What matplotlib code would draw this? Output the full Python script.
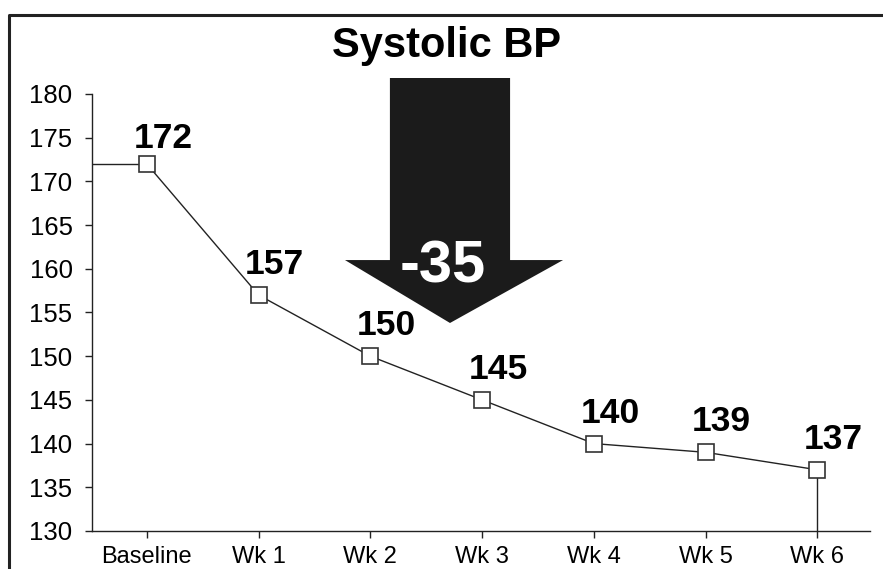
import matplotlib.pyplot as plt
from matplotlib.lines import Line2D
from matplotlib.patches import Polygon

plt.rcParams["font.family"] = ["Liberation Sans", "DejaVu Sans"]

CATEGORIES = ["Baseline", "Wk 1", "Wk 2", "Wk 3", "Wk 4", "Wk 5", "Wk 6"]
SYSTOLIC = [172, 157, 150, 145, 140, 139, 137]
Y_TICKS = [130, 135, 140, 145, 150, 155, 160, 165, 170, 175, 180]

LINE_COLOR = "#222222"
ARROW_COLOR = "#1b1b1b"

fig = plt.figure(figsize=(8.83, 5.69), dpi=100)
ax = fig.add_axes([0.1042, 0.0668, 0.8811, 0.768])

x = list(range(len(CATEGORIES)))
ax.set_xlim(-0.49, 6.47)
ax.set_ylim(Y_TICKS[0], Y_TICKS[-1])

# Excel-style drop lines at both ends of the series
ax.plot([-0.49, x[0]], [SYSTOLIC[0], SYSTOLIC[0]], color=LINE_COLOR, lw=1.0, zorder=2)
ax.plot([x[-1], x[-1]], [Y_TICKS[0], SYSTOLIC[-1]], color=LINE_COLOR, lw=1.0, zorder=2)

ax.plot(x, SYSTOLIC, color=LINE_COLOR, lw=1.0, marker="s", markersize=11,
        markerfacecolor="white", markeredgecolor="#333333", markeredgewidth=1.2, zorder=3)

for i, (xi, v) in enumerate(zip(x, SYSTOLIC)):
    dy = 11.5 if i == 0 else 15
    ax.annotate(str(v), xy=(xi, v), xytext=(11.5, dy), textcoords="offset points",
                ha="center", va="baseline", fontsize=25.5, fontweight="bold", color="black")

# big down arrow showing the total change
change = SYSTOLIC[-1] - SYSTOLIC[0]
shaft_l, shaft_r, wing_l, wing_r = 2.175, 3.25, 1.773, 3.724
top_y, base_y, tip_y = 181.83, 161.0, 153.8
tip_x = (shaft_l + shaft_r) / 2
arrow = Polygon([(shaft_l, top_y), (shaft_r, top_y), (shaft_r, base_y), (wing_r, base_y),
                 (tip_x, tip_y), (wing_l, base_y), (shaft_l, base_y)],
                closed=True, facecolor=ARROW_COLOR, edgecolor="none", clip_on=False, zorder=4)
ax.add_patch(arrow)
ax.text(2.65, 160.2, f"{change}", ha="center", va="center", fontsize=43,
        fontweight="bold", color="white", zorder=5)

ax.set_xticks(x)
ax.set_xticklabels(CATEGORIES)
ax.set_yticks(Y_TICKS)
ax.tick_params(axis="y", labelsize=18.5, length=5, width=1, color=LINE_COLOR, pad=9)
ax.tick_params(axis="x", labelsize=17, length=5, width=1, color=LINE_COLOR, pad=6)
for side in ["top", "right"]:
    ax.spines[side].set_visible(False)
for side in ["left", "bottom"]:
    ax.spines[side].set_color(LINE_COLOR)
    ax.spines[side].set_linewidth(1.0)

fig.text(447 / 883, 1 - 57 / 569, "Systolic BP", ha="center", va="baseline",
         fontsize=30, fontweight="bold")

# outer frame, cut off at the right and bottom of the picture
frame = Line2D([9 / 883, 9 / 883, 1.0], [0.0, 1 - 15 / 569, 1 - 15 / 569],
               transform=fig.transFigure, color="#222222", lw=2.2)
fig.add_artist(frame)

fig.savefig("out.png", dpi=100)
